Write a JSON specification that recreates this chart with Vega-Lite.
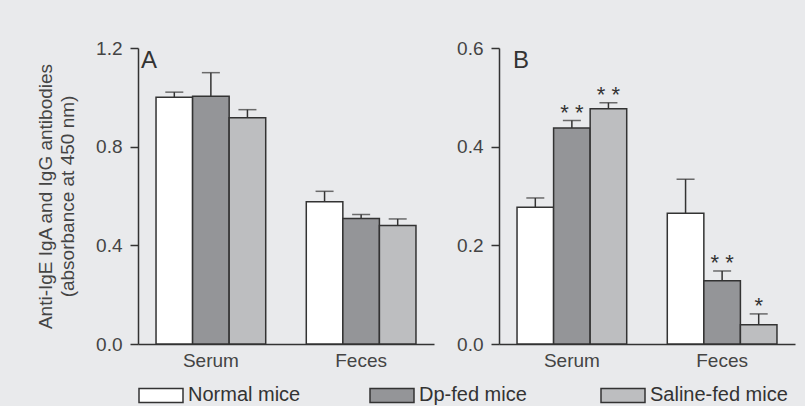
{
  "$schema": "https://vega.github.io/schema/vega-lite/v6.json",
  "background": "#e9eaec",
  "padding": {"left": 36, "top": 39, "right": 10, "bottom": 0},
  "datasets": {
    "d": [
      {"panel": "A", "sample": "Serum", "group": "Normal mice", "value": 1.0, "upper": 1.021, "sig": ""},
      {"panel": "A", "sample": "Serum", "group": "Dp-fed mice", "value": 1.004, "upper": 1.10, "sig": ""},
      {"panel": "A", "sample": "Serum", "group": "Saline-fed mice", "value": 0.917, "upper": 0.95, "sig": ""},
      {"panel": "A", "sample": "Feces", "group": "Normal mice", "value": 0.577, "upper": 0.619, "sig": ""},
      {"panel": "A", "sample": "Feces", "group": "Dp-fed mice", "value": 0.509, "upper": 0.525, "sig": ""},
      {"panel": "A", "sample": "Feces", "group": "Saline-fed mice", "value": 0.48, "upper": 0.507, "sig": ""},
      {"panel": "B", "sample": "Serum", "group": "Normal mice", "value": 0.277, "upper": 0.296, "sig": ""},
      {"panel": "B", "sample": "Serum", "group": "Dp-fed mice", "value": 0.438, "upper": 0.453, "sig": "* *"},
      {"panel": "B", "sample": "Serum", "group": "Saline-fed mice", "value": 0.477, "upper": 0.489, "sig": "* *"},
      {"panel": "B", "sample": "Feces", "group": "Normal mice", "value": 0.265, "upper": 0.334, "sig": ""},
      {"panel": "B", "sample": "Feces", "group": "Dp-fed mice", "value": 0.128, "upper": 0.148, "sig": "* *"},
      {"panel": "B", "sample": "Feces", "group": "Saline-fed mice", "value": 0.039, "upper": 0.061, "sig": "*"}
    ]
  },
  "spacing": 22,
  "hconcat": [
    {
      "width": 296,
      "height": 296,
      "data": {"name": "d"},
      "transform": [{"filter": "datum.panel == 'A'"}],
      "title": {"text": "A", "anchor": "start", "frame": "group", "orient": "top", "offset": -34, "dx": 3, "fontSize": 24, "fontWeight": "normal", "color": "#333", "font": "Liberation Sans"},
      "encoding": {
        "x": {"field": "sample", "type": "nominal", "sort": ["Serum", "Feces"], "scale": {"paddingInner": 0.27, "paddingOuter": 0.12}, "axis": {"title": null, "labelAngle": 0, "ticks": false, "labelPadding": 7}},
        "xOffset": {"field": "group", "type": "nominal", "sort": ["Normal mice", "Dp-fed mice", "Saline-fed mice"], "scale": {"paddingInner": 0, "paddingOuter": 0}}
      },
      "layer": [
        {"mark": {"type": "rule", "color": "#333", "strokeWidth": 1.5},
         "encoding": {"y": {"field": "value", "type": "quantitative"}, "y2": {"field": "upper"}}},
        {"mark": {"type": "tick", "orient": "horizontal", "size": 18, "thickness": 1.5, "color": "#333"},
         "encoding": {"y": {"field": "upper", "type": "quantitative"}}},
        {"mark": {"type": "bar", "stroke": "#333", "strokeWidth": 1.5},
         "encoding": {
           "y": {"field": "value", "type": "quantitative", "scale": {"domain": [0, 1.2], "nice": false}, "axis": {"values": [0, 0.4, 0.8, 1.2], "format": ".1f", "title": ["Anti-IgE IgA and IgG antibodies", "(absorbance at 450 nm)"]}},
           "fill": {"field": "group", "type": "nominal", "sort": ["Normal mice", "Dp-fed mice", "Saline-fed mice"], "scale": {"domain": ["Normal mice", "Dp-fed mice", "Saline-fed mice"], "range": ["#ffffff", "#949598", "#bdbec0"]}, "legend": {"title": null}}
         }}
      ]
    },
    {
      "width": 296,
      "height": 296,
      "data": {"name": "d"},
      "transform": [{"filter": "datum.panel == 'B'"}],
      "title": {"text": "B", "anchor": "start", "frame": "group", "orient": "top", "offset": -34, "dx": 14, "fontSize": 24, "fontWeight": "normal", "color": "#333", "font": "Liberation Sans"},
      "encoding": {
        "x": {"field": "sample", "type": "nominal", "sort": ["Serum", "Feces"], "scale": {"paddingInner": 0.27, "paddingOuter": 0.12}, "axis": {"title": null, "labelAngle": 0, "ticks": false, "labelPadding": 7}},
        "xOffset": {"field": "group", "type": "nominal", "sort": ["Normal mice", "Dp-fed mice", "Saline-fed mice"], "scale": {"paddingInner": 0, "paddingOuter": 0}}
      },
      "layer": [
        {"mark": {"type": "rule", "color": "#333", "strokeWidth": 1.5},
         "encoding": {"y": {"field": "value", "type": "quantitative"}, "y2": {"field": "upper"}}},
        {"mark": {"type": "tick", "orient": "horizontal", "size": 18, "thickness": 1.5, "color": "#333"},
         "encoding": {"y": {"field": "upper", "type": "quantitative"}}},
        {"mark": {"type": "bar", "stroke": "#333", "strokeWidth": 1.5},
         "encoding": {
           "y": {"field": "value", "type": "quantitative", "scale": {"domain": [0, 0.6], "nice": false}, "axis": {"values": [0, 0.2, 0.4, 0.6], "format": ".1f", "title": null}},
           "fill": {"field": "group", "type": "nominal", "sort": ["Normal mice", "Dp-fed mice", "Saline-fed mice"], "legend": {"title": null}}
         }},
        {"transform": [{"filter": "datum.sig != ''"}],
         "mark": {"type": "text", "fontSize": 22, "color": "#333", "baseline": "alphabetic", "dy": -1, "font": "Liberation Sans"},
         "encoding": {"y": {"field": "upper", "type": "quantitative"}, "text": {"field": "sig"}}}
      ]
    }
  ],
  "resolve": {"scale": {"fill": "shared"}},
  "config": {
    "font": "Liberation Sans",
    "view": {"stroke": null},
    "axis": {"grid": false, "domainColor": "#333", "domainWidth": 1.5, "tickColor": "#333", "tickWidth": 1.5, "tickSize": 8, "labelColor": "#444", "labelFontSize": 19, "labelFont": "Liberation Sans", "labelPadding": 8, "titleFont": "Liberation Sans", "titleFontSize": 19, "titleFontWeight": "normal", "titleColor": "#444", "titlePadding": 18, "titleLineHeight": 22},
    "legend": {"orient": "bottom", "direction": "horizontal", "offset": 2, "labelFontSize": 20, "labelFont": "Liberation Sans", "labelColor": "#333", "symbolType": "M-1,-0.32H1V0.32H-1Z", "symbolSize": 1936, "symbolStrokeColor": "#333", "symbolStrokeWidth": 1.5, "labelOffset": 4, "columnPadding": 41, "gridAlign": "all"}
  }
}
